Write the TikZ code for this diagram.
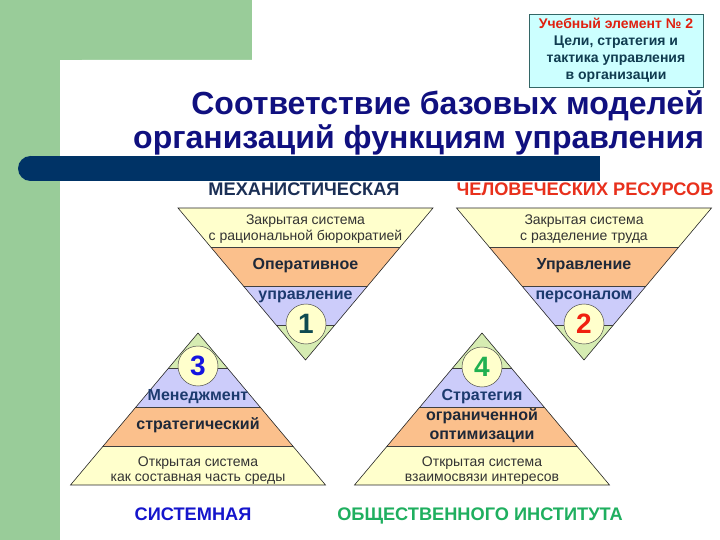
\documentclass[tikz,border=0pt]{standalone}
\usepackage{fontspec}
\setmainfont{Liberation Sans}
\definecolor{bggreen}{HTML}{99CC99}
\definecolor{barnavy}{HTML}{003366}
\definecolor{titleblue}{HTML}{10107F}
\definecolor{cy}{HTML}{FFFFCC}
\definecolor{co}{HTML}{FBC08C}
\definecolor{cp}{HTML}{CCCCFA}
\definecolor{cg}{HTML}{D6ECB2}
\definecolor{boxfill}{HTML}{CCFFFF}
\definecolor{boxline}{HTML}{336666}
\definecolor{boxtext}{HTML}{103C50}
\definecolor{boxred}{HTML}{E02010}
\definecolor{darknavy}{HTML}{1B2F55}
\definecolor{bandnavy}{HTML}{1C3A6E}
\definecolor{banddark}{HTML}{1E2838}
\definecolor{labred}{HTML}{E8301C}
\definecolor{labblue}{HTML}{1515CC}
\definecolor{labgreen}{HTML}{1FAF5F}
\definecolor{nteal}{HTML}{0E4A50}
\definecolor{nred}{HTML}{F02010}
\definecolor{nblue}{HTML}{1414E0}
\definecolor{ngreen}{HTML}{20B050}
\newcommand\layeredtri[1]{%
\begin{scope}[#1]
 \begin{scope}
  \clip (-127.5,0) -- (127.5,0) -- (0,152) -- cycle;
  \fill[cy] (-130,0) rectangle (130,39);
  \fill[co] (-130,39) rectangle (130,78);
  \fill[cp] (-130,78) rectangle (130,117);
  \fill[cg] (-130,117) rectangle (130,153);
  \draw[bandline] (-130,39) -- (130,39) (-130,78) -- (130,78) (-130,117) -- (130,117);
 \end{scope}
 \draw[triline] (-127.5,0) -- (127.5,0) -- (0,152) -- cycle;
\end{scope}}
\begin{document}
\begin{tikzpicture}[x=1pt,y=-1pt,
  every node/.style={inner sep=0pt, outer sep=0pt},
  triline/.style={draw=black!85, line width=0.6pt, line join=miter},
  bandline/.style={draw=black!75, line width=0.5pt},
  title/.style={font=\fontsize{32}{37}\selectfont\bfseries, text=titleblue, anchor=base east},
  plain/.style={font=\fontsize{14}{16}\selectfont, text=black!80, anchor=mid},
  boldnavy/.style={font=\fontsize{16}{18}\selectfont\bfseries, text=bandnavy, anchor=mid},
  bolddark/.style={font=\fontsize{16}{18}\selectfont\bfseries, text=banddark, anchor=mid},
  label/.style={font=\fontsize{18.2}{20}\selectfont\bfseries, anchor=mid},
  numcirc/.style={circle, draw=black!70, line width=0.5pt, fill=cy, minimum size=40pt,
     font=\fontsize{28}{30}\selectfont\bfseries}]
\useasboundingbox (0,0) rectangle (720,540);
% background
\fill[white] (0,0) rectangle (720,540);
\fill[bggreen] (0,0) rectangle (252,60);
\fill[bggreen] (0,0) rectangle (60,540);
\fill[white, rounded corners=22pt] (60,60) rectangle (760,600);
% navy bar
\fill[barnavy] (30.5,156) rectangle (600,181);
\fill[barnavy] (30.5,168.5) circle (12.5);
% info box
\node[draw=boxline, line width=0.6pt, fill=boxfill, minimum width=174pt, minimum height=73pt,
  align=center, font=\fontsize{14}{17}\selectfont\bfseries, text=boxtext] (infobox) at (616,50.5)
  {\textcolor{boxred}{Учебный элемент № 2}\\Цели, стратегия и\\тактика управления\\в организации};
% title
\node[title] (title1) at (704,115) {Соответствие базовых моделей};
\node[title] (title2) at (704,149) {организаций функциям управления};
% triangles
\layeredtri{shift={(305.5,208)}}
\layeredtri{shift={(584,208)}}
\layeredtri{shift={(198,485)},yscale=-1}
\layeredtri{shift={(482,485)},yscale=-1}
% circles
\node[numcirc, text=nteal] (n1) at (306,324) {1};
\node[numcirc, text=nred] (n2) at (584,324) {2};
\node[numcirc, text=nblue] (n3) at (198,366) {3};
\node[numcirc, text=ngreen] (n4) at (482,367) {4};
% triangle 1 texts
\node[plain] (t1a) at (305.5,222) {Закрытая система};
\node[plain] (t1b) at (305.5,238) {с рациональной бюрократией};
\node[bolddark] (t1c) at (305.5,267) {Оперативное};
\node[boldnavy] (t1d) at (305.5,297) {управление};
% triangle 2 texts
\node[plain] (t2a) at (584,222) {Закрытая система};
\node[plain] (t2b) at (584,238) {с разделение труда};
\node[bolddark] (t2c) at (584,267) {Управление};
\node[boldnavy] (t2d) at (584,297) {персоналом};
% triangle 3 texts
\node[boldnavy] (t3a) at (198,398) {Менеджмент};
\node[bolddark] (t3b) at (198,427) {стратегический};
\node[plain] (t3c) at (198,464) {Открытая система};
\node[plain] (t3d) at (198,479) {как составная часть среды};
% triangle 4 texts
\node[boldnavy] (t4a) at (482,398) {Стратегия};
\node[bolddark] (t4b) at (482,418) {ограниченной};
\node[bolddark] (t4c) at (482,437) {оптимизации};
\node[plain] (t4d) at (482,464) {Открытая система};
\node[plain] (t4e) at (482,479) {взаимосвязи интересов};
% labels
\node[label, text=darknavy] (lmech) at (304,193) {МЕХАНИСТИЧЕСКАЯ};
\node[label, text=labred] (lhum) at (585,193) {ЧЕЛОВЕЧЕСКИХ РЕСУРСОВ};
\node[label, text=labblue] (lsys) at (193,518) {СИСТЕМНАЯ};
\node[label, text=labgreen] (lsoc) at (480,518) {ОБЩЕСТВЕННОГО ИНСТИТУТА};
\end{tikzpicture}
\end{document}
